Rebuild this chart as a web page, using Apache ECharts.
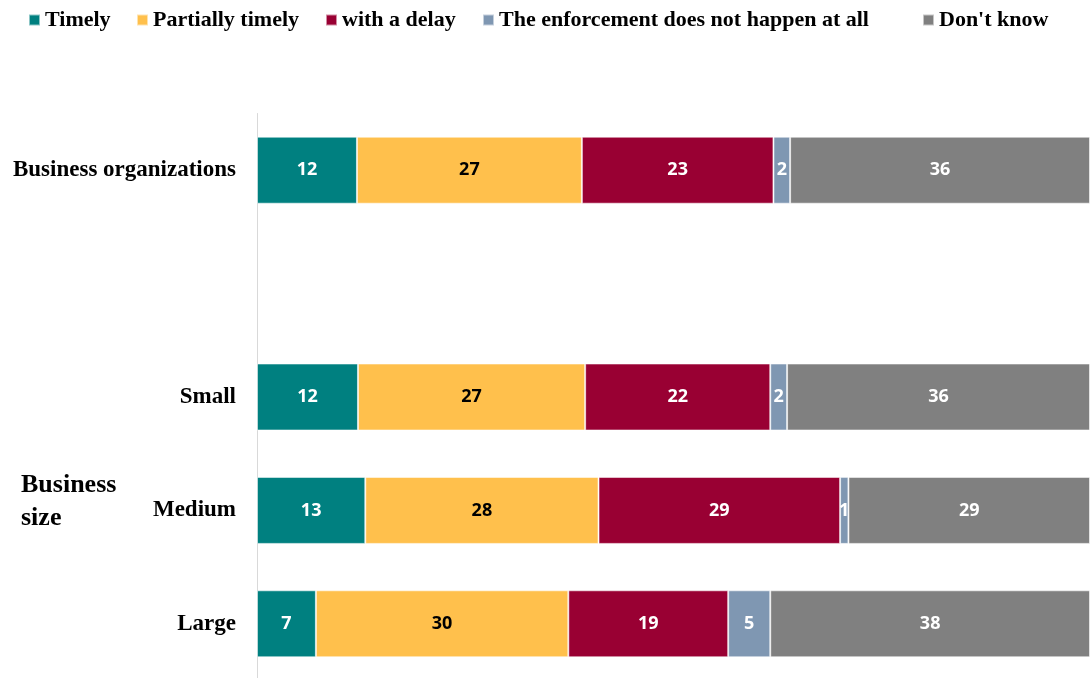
<!DOCTYPE html>
<html>
<head>
<meta charset="utf-8">
<title>Enforcement timeliness by business size</title>
<script src="https://cdn.jsdelivr.net/npm/echarts@6/dist/echarts.min.js"></script>
<style>
  html, body { margin: 0; padding: 0; background: #ffffff; }
  #chart { width: 1091px; height: 678px; }
</style>
</head>
<body>
<div id="chart"></div>
<script>
// Rows, top to bottom; the blank entry leaves a gap before the size breakdown
const categories = ['Business organizations', '', 'Small', 'Medium', 'Large'];

const seriesNames = ['Timely', 'Partially timely', 'with a delay',
  'The enforcement does not happen at all', "Don't know"];

// Shares (%) per row, in the order of categories
const timely       = [12, null, 12, 13, 7];
const partially    = [27, null, 27, 28, 30];
const withDelay    = [23, null, 22, 29, 19];
const notAtAll     = [2,  null, 2,  1,  5];
const dontKnow     = [36, null, 36, 29, 38];

const colors = ['#008080', '#FFC04C', '#990033', '#7F97B2', '#808080'];
const labelColors = ['#ffffff', '#000000', '#ffffff', '#ffffff', '#ffffff'];

const allValues = [timely, partially, withDelay, notAtAll, dontKnow];

// Each bar is shown as a 100% stack of its row total
const rowTotals = categories.map((_, i) =>
  allValues.reduce((s, arr) => s + (arr[i] == null ? 0 : arr[i]), 0));

const serif = '"Liberation Serif", "Times New Roman", serif';

// One legend entry per component so each key sits at its own x position
const legendLeft = [28, 136, 325, 482, 922];
const legends = seriesNames.map((name, k) => ({
  data: [name],
  left: legendLeft[k],
  top: 9,
  itemWidth: 11,
  itemHeight: 11,
  itemGap: 0,
  padding: 0,
  icon: 'rect',
  textStyle: { fontFamily: serif, fontWeight: 'bold', fontSize: 22, color: '#000' }
}));

const chart = echarts.init(document.getElementById('chart'), null, { renderer: 'canvas' });

chart.setOption({
  animation: false,
  color: colors,
  legend: legends,
  // The plot runs slightly past the bottom edge, so keep it from being squeezed in
  grid: { left: 257, right: 1, top: 113.5, height: 567, outerBoundsMode: 'none' },
  xAxis: {
    type: 'value',
    min: 0,
    max: 100,
    show: false
  },
  yAxis: {
    type: 'category',
    data: categories,
    inverse: true,
    axisLine: { show: true, lineStyle: { color: '#d9d9d9', width: 1 } },
    axisTick: { show: false },
    axisLabel: {
      margin: 21,
      fontFamily: serif,
      fontWeight: 'bold',
      fontSize: 23,
      color: '#000'
    }
  },
  graphic: [{
    type: 'text',
    left: 21,
    top: 469,
    style: {
      text: 'Business\nsize',
      fontFamily: serif,
      fontWeight: 'bold',
      fontSize: 26,
      lineHeight: 33,
      fill: '#000'
    }
  }],
  series: seriesNames.map((name, k) => ({
    name: name,
    type: 'bar',
    stack: 'total',
    barWidth: 67,
    itemStyle: { color: colors[k], borderColor: 'rgba(255,255,255,0.55)', borderWidth: 1 },
    label: {
      show: true,
      position: 'inside',
      fontFamily: '"Open Sans", "Noto Sans", sans-serif',
      fontWeight: 'bold',
      fontSize: 18,
      color: labelColors[k],
      formatter: p => allValues[k][p.dataIndex]
    },
    data: allValues[k].map((v, i) => v == null ? null : v / rowTotals[i] * 100)
  }))
});
</script>
</body>
</html>
